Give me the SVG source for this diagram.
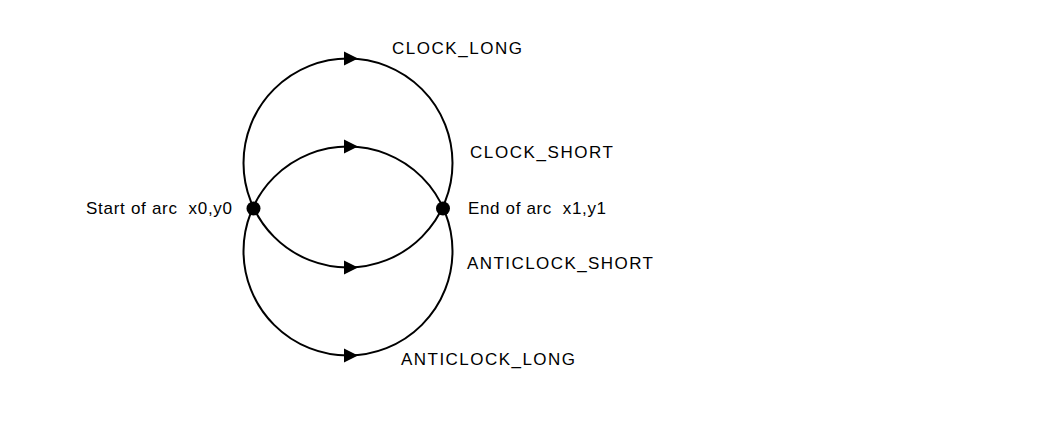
<svg xmlns="http://www.w3.org/2000/svg" width="1064" height="424" viewBox="0 0 1064 424">
<style>
.arc{fill:none;stroke:#000;stroke-width:2}
.ah{fill:#000}
.dot{fill:#000}
.lbl{font-family:"Liberation Sans",Arial,sans-serif;font-size:17px;fill:#000;white-space:pre}
</style>
<defs>
<path id="tri" d="M-14,-7 L0,0 L-14,7 Z"/>
</defs>
<rect width="1064" height="424" fill="#fff"/>
<g id="connectors">
<circle class="arc" cx="348" cy="163" r="104.5"/>
<circle class="arc" cx="348" cy="251" r="104.5"/>
<use href="#tri" class="ah" x="358" y="58.5"/>
<use href="#tri" class="ah" x="358" y="146.5"/>
<use href="#tri" class="ah" x="358" y="267.5"/>
<use href="#tri" class="ah" x="358" y="355.5"/>
</g>
<g id="start">
<circle class="dot" cx="253.5" cy="208.5" r="7"/>
<text class="lbl" x="86" y="214" textLength="146" lengthAdjust="spacing" xml:space="preserve">Start of arc  x0,y0</text>
</g>
<g id="end">
<circle class="dot" cx="443" cy="208.5" r="7"/>
<text class="lbl" x="468" y="214" textLength="138" lengthAdjust="spacing" xml:space="preserve">End of arc  x1,y1</text>
</g>
<g id="clock_long"><text class="lbl" x="392" y="54" textLength="130" lengthAdjust="spacing">CLOCK_LONG</text></g>
<g id="clock_short"><text class="lbl" x="470" y="158" textLength="143" lengthAdjust="spacing">CLOCK_SHORT</text></g>
<g id="anticlock_short"><text class="lbl" x="467" y="268.5" textLength="186" lengthAdjust="spacing">ANTICLOCK_SHORT</text></g>
<g id="anticlock_long"><text class="lbl" x="401" y="365" textLength="174" lengthAdjust="spacing">ANTICLOCK_LONG</text></g>
</svg>
